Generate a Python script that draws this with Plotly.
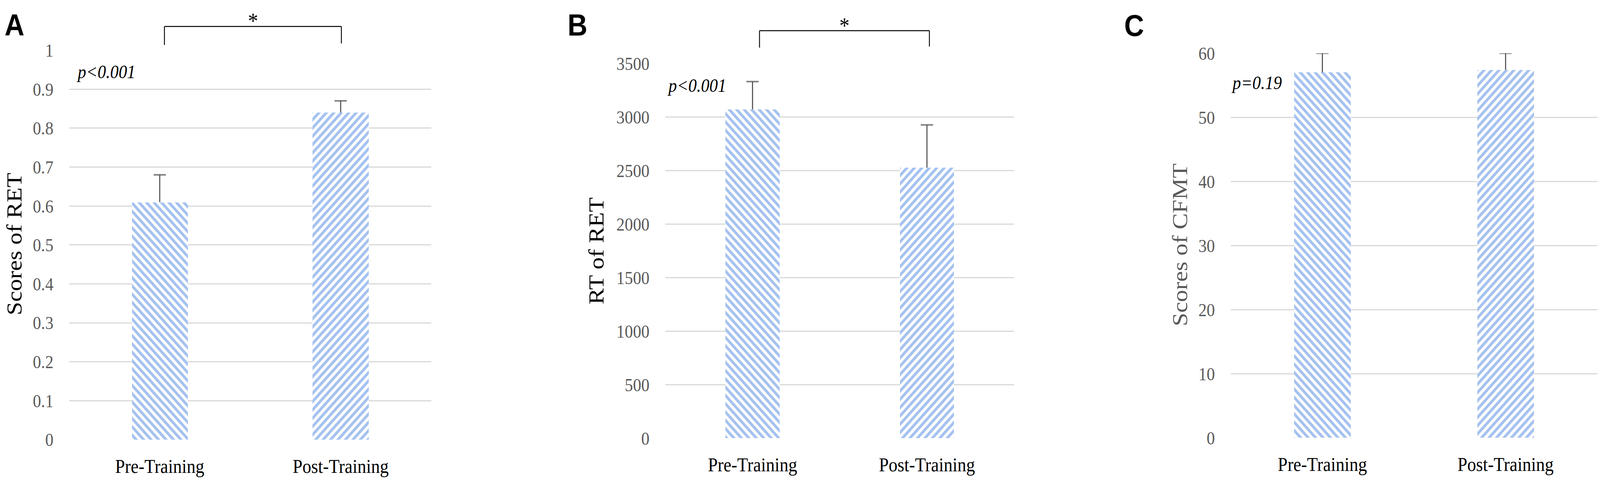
import plotly.graph_objects as go

# data
categories = ["Pre-Training", "Post-Training"]

ret_scores = [0.61, 0.84]
ret_scores_err = [0.07, 0.03]

ret_rt = [3070, 2525]
ret_rt_err = [260, 400]

cfmt_scores = [57.0, 57.4]
cfmt_scores_err = [3.0, 2.6]

panel_letters = ["A", "B", "C"]
y_titles = ["Scores of RET", "RT of RET", "Scores of CFMT"]
p_labels = ["p&lt;0.001", "p&lt;0.001", "p=0.19"]
y_max = [1, 3500, 60]
y_step = [0.1, 500, 10]
significant = [True, True, False]

values = [ret_scores, ret_rt, cfmt_scores]
errors = [ret_scores_err, ret_rt_err, cfmt_scores_err]

# page geometry (pixels)
W, H = 4550, 1241
x_px = [(197, 1226), (1892, 2884), (3500, 4542)]
y_px = [(1147, 107), (1143, 142), (1142, 115)]  # (bottom, top) from page top
letter_px = [(11, 40), (1612, 40), (3195, 41)]
title_px = [(40, 625), (1695, 643), (3355, 627)]
title_colors = ["black", "black", "#595959"]
p_pos = [(0.018, 0.945), (0.004, 3294), (0.0, 55.4)]
bracket = [
    dict(x0=0.263, x1=0.752, top=1.061, b0=1.0135, b1=1.0173, star=1.075),
    dict(x0=0.270, x1=0.757, top=1.087, b0=1.042, b1=1.045, star=1.101),
]

SERIF = "Liberation Serif, Times New Roman, serif"
BLUE = "#4A86DF"
GRID = "#D9D9D9"
ERR = "#4D4D4D"

fig = go.Figure()
annotations = []
shapes = []

for i in range(3):
    sfx = "" if i == 0 else str(i + 1)
    xa, ya = "x" + sfx, "y" + sfx

    fig.add_trace(
        go.Bar(
            x=categories,
            y=values[i],
            width=0.31,
            marker=dict(
                color="white",
                line=dict(width=0),
                pattern=dict(
                    shape=["\\", "/"],
                    fgcolor=BLUE,
                    bgcolor="white",
                    size=15,
                    solidity=0.5,
                ),
            ),
            xaxis=xa,
            yaxis=ya,
            showlegend=False,
        )
    )

    # plus-only error bars
    ex, ey, es = [], [], []
    for c, v, e in zip(categories, values[i], errors[i]):
        ex += [c, c, None]
        ey += [v, v + e, None]
        es += [0, 25, 0]
    fig.add_trace(
        go.Scatter(
            x=ex,
            y=ey,
            mode="lines+markers",
            line=dict(color=ERR, width=3),
            marker=dict(symbol="line-ew", size=es, line=dict(color=ERR, width=4)),
            xaxis=xa,
            yaxis=ya,
            showlegend=False,
            connectgaps=False,
        )
    )

    x0, x1 = x_px[i]
    yb, yt = y_px[i]
    fig.update_layout(
        {
            "xaxis" + sfx: dict(
                domain=[x0 / W, x1 / W],
                anchor=ya,
                range=[-0.5, 1.5],
                showgrid=False,
                showline=False,
                zeroline=False,
                ticks="",
                ticklabelstandoff=34,
                tickfont=dict(family=SERIF, size=50, color="black"),
            ),
            "yaxis" + sfx: dict(
                domain=[1 - yb / H, 1 - yt / H],
                anchor=xa,
                range=[0, y_max[i]],
                dtick=y_step[i],
                tick0=0,
                showgrid=True,
                gridcolor=GRID,
                gridwidth=3,
                zeroline=False,
                showline=False,
                ticks="",
                ticklabelstandoff=44,
                tickfont=dict(family=SERIF, size=47, color="#595959"),
            ),
        }
    )

    lx, ly = letter_px[i]
    annotations.append(
        dict(
            text=panel_letters[i],
            x=lx / W,
            y=1 - ly / H,
            xref="paper",
            yref="paper",
            xanchor="left",
            yanchor="middle",
            showarrow=False,
            font=dict(family="Liberation Sans, Arial, sans-serif", size=78,
                      color="black", weight="bold"),
        )
    )

    tx, ty = title_px[i]
    annotations.append(
        dict(
            text=y_titles[i],
            x=tx / W,
            y=1 - ty / H,
            xref="paper",
            yref="paper",
            xanchor="center",
            yanchor="middle",
            textangle=-90,
            showarrow=False,
            font=dict(family=SERIF, size=62, color=title_colors[i]),
        )
    )

    px_, py_ = p_pos[i]
    annotations.append(
        dict(
            text=p_labels[i],
            x=px_,
            y=py_,
            xref=xa + " domain",
            yref=ya,
            xanchor="left",
            yanchor="middle",
            showarrow=False,
            font=dict(family=SERIF, size=48, color="black", style="italic"),
        )
    )

    if significant[i]:
        b = bracket[i]
        line = dict(color="black", width=2.5)
        for seg in [
            (b["x0"], b["b0"], b["x0"], b["top"]),
            (b["x0"], b["top"], b["x1"], b["top"]),
            (b["x1"], b["top"], b["x1"], b["b1"]),
        ]:
            shapes.append(
                dict(
                    type="line",
                    xref=xa + " domain",
                    yref=ya + " domain",
                    x0=seg[0], y0=seg[1], x1=seg[2], y1=seg[3],
                    line=line,
                )
            )
        annotations.append(
            dict(
                text="*",
                x=(b["x0"] + b["x1"]) / 2,
                y=b["star"],
                xref=xa + " domain",
                yref=ya + " domain",
                xanchor="center",
                yanchor="middle",
                showarrow=False,
                font=dict(family=SERIF, size=58, color="black"),
            )
        )

fig.update_layout(
    width=W,
    height=H,
    margin=dict(l=0, r=0, t=0, b=0),
    paper_bgcolor="white",
    plot_bgcolor="white",
    annotations=annotations,
    shapes=shapes,
    bargap=0,
)

# fit the fixed-size figure into the browser viewport if that is smaller
fit_script = """
var gd = document.getElementById('{plot_id}');
document.documentElement.style.overflow = 'hidden';
document.body.style.margin = '0';
document.body.style.overflow = 'hidden';
var sx = Math.min(window.innerWidth / %d, 1);
var sy = Math.min(window.innerHeight / %d, 1);
gd.style.transformOrigin = '0 0';
gd.style.transform = 'scale(' + sx + ',' + sy + ')';
""" % (W, H)

fig.write_html("out.html", post_script=fit_script,
               config={"displayModeBar": False})
